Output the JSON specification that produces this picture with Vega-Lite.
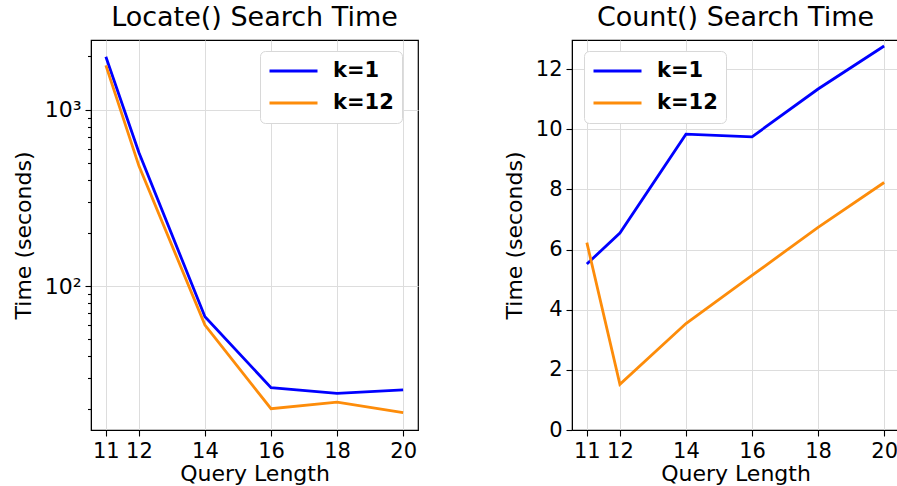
{
  "$schema": "https://vega.github.io/schema/vega-lite/v6.json",
  "padding": {"left": 11, "top": 3, "right": 0, "bottom": 0},
  "spacing": 83,
  "config": {
    "font": "DejaVu Sans",
    "view": {"stroke": "black", "strokeWidth": 1.2},
    "title": {"fontSize": 27, "fontWeight": "normal", "font": "DejaVu Sans", "color": "black", "offset": 8},
    "axis": {
      "labelFont": "DejaVu Sans", "labelFontSize": 21, "labelColor": "black",
      "titleFont": "DejaVu Sans", "titleFontSize": 22, "titleFontWeight": "normal", "titleColor": "black",
      "domainColor": "black", "tickColor": "black", "tickSize": 6, "tickWidth": 1.1,
      "gridColor": "#dddddd", "gridWidth": 1, "labelPadding": 4
    },
    "legend": {
      "orient": "none", "symbolType": "stroke", "symbolSize": 2304, "symbolStrokeWidth": 2.8,
      "labelFont": "DejaVu Sans", "labelFontSize": 21, "labelFontWeight": "bold", "labelColor": "black",
      "fillColor": "white", "strokeColor": "#d8d8d8", "cornerRadius": 5, "padding": 8,
      "clipHeight": 24, "rowPadding": 8, "labelOffset": 14, "title": null
    }
  },
  "resolve": {"scale": {"y": "independent", "color": "independent"}, "legend": {"color": "independent"}},
  "hconcat": [
    {
      "title": "Locate() Search Time",
      "width": 327,
      "height": 390,
      "data": {"values": [
        {"len": 11, "k": "k=1", "time": 1995},
        {"len": 12, "k": "k=1", "time": 571},
        {"len": 14, "k": "k=1", "time": 67},
        {"len": 16, "k": "k=1", "time": 26.6},
        {"len": 18, "k": "k=1", "time": 24.7},
        {"len": 20, "k": "k=1", "time": 25.8},
        {"len": 11, "k": "k=12", "time": 1781},
        {"len": 12, "k": "k=12", "time": 480},
        {"len": 14, "k": "k=12", "time": 60.2},
        {"len": 16, "k": "k=12", "time": 20.2},
        {"len": 18, "k": "k=12", "time": 22},
        {"len": 20, "k": "k=12", "time": 19.2}
      ]},
      "mark": {"type": "line", "strokeWidth": 2.8},
      "encoding": {
        "x": {"field": "len", "type": "quantitative", "title": "Query Length",
              "scale": {"domain": [10.55, 20.45], "nice": false, "zero": false},
              "axis": {"values": [11, 12, 14, 16, 18, 20], "titlePadding": 2}},
        "y": {"field": "time", "type": "quantitative", "title": "Time (seconds)",
              "scale": {"type": "log", "domain": [15.3, 2480], "nice": false},
              "axis": {
                "values": [20, 30, 40, 50, 60, 70, 80, 90, 100, 200, 300, 400, 500, 600, 700, 800, 900, 1000, 2000],
                "labelExpr": "datum.value == 100 ? '10²' : (datum.value == 1000 ? '10³' : '')",
                "labelFontSize": 22,
                "tickSize": {"condition": {"test": "datum.value == 100 || datum.value == 1000", "value": 6}, "value": 3.5},
                "gridOpacity": {"condition": {"test": "datum.value == 100 || datum.value == 1000", "value": 1}, "value": 0},
                "titlePadding": 9
              }},
        "color": {"field": "k", "type": "nominal",
                  "scale": {"domain": ["k=1", "k=12"], "range": ["#0000ff", "#fd8c0a"]},
                  "legend": {"legendX": 169, "legendY": 11}}
      }
    },
    {
      "title": "Count() Search Time",
      "width": 327,
      "height": 390,
      "data": {"values": [
        {"len": 11, "k": "k=1", "time": 5.52},
        {"len": 12, "k": "k=1", "time": 6.55},
        {"len": 14, "k": "k=1", "time": 9.84},
        {"len": 16, "k": "k=1", "time": 9.75},
        {"len": 18, "k": "k=1", "time": 11.34},
        {"len": 20, "k": "k=1", "time": 12.77},
        {"len": 11, "k": "k=12", "time": 6.23},
        {"len": 12, "k": "k=12", "time": 1.52},
        {"len": 14, "k": "k=12", "time": 3.54},
        {"len": 16, "k": "k=12", "time": 5.14},
        {"len": 18, "k": "k=12", "time": 6.74},
        {"len": 20, "k": "k=12", "time": 8.23}
      ]},
      "mark": {"type": "line", "strokeWidth": 2.8},
      "encoding": {
        "x": {"field": "len", "type": "quantitative", "title": "Query Length",
              "scale": {"domain": [10.55, 20.45], "nice": false, "zero": false},
              "axis": {"values": [11, 12, 14, 16, 18, 20], "titlePadding": 2}},
        "y": {"field": "time", "type": "quantitative", "title": "Time (seconds)",
              "scale": {"domain": [0, 12.97], "nice": false},
              "axis": {"values": [0, 2, 4, 6, 8, 10, 12], "titlePadding": 9}},
        "color": {"field": "k", "type": "nominal",
                  "scale": {"domain": ["k=1", "k=12"], "range": ["#0000ff", "#fd8c0a"]},
                  "legend": {"legendX": 12, "legendY": 11}}
      }
    }
  ]
}
